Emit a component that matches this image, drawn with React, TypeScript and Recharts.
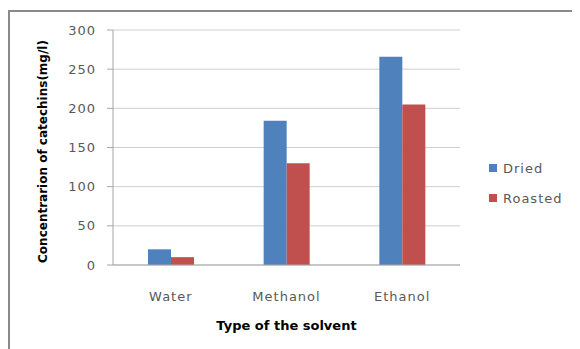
import { BarChart, Bar, XAxis, YAxis, CartesianGrid } from "recharts";

const solvents = ["Water", "Methanol", "Ethanol"];
const dried = [20, 184, 266];
const roasted = [10, 130, 205];
const yTicks = [0, 50, 100, 150, 200, 250, 300];

const data = solvents.map((name, i) => ({ name, Dried: dried[i], Roasted: roasted[i] }));

const series = [
  { key: "Dried", color: "#4F81BD" },
  { key: "Roasted", color: "#C0504D" },
];

const FONT = "'DejaVu Sans', sans-serif";
const TEXT = "#595959";

export default function App() {
  return (
    <div style={{ position: "relative", width: 572, height: 341 }}>
      <div
        style={{
          position: "absolute",
          left: 0,
          top: 2,
          right: 0,
          bottom: 0,
          borderTop: "2px solid #8a8a8a",
          borderLeft: "2px solid #8a8a8a",
        }}
      />
      <BarChart
        width={572}
        height={341}
        data={data}
        margin={{ top: 22, right: 120, left: 0, bottom: 0 }}
        barGap={0}
        barSize={23}
      >
        <CartesianGrid vertical={false} stroke="#cfcfcf" />
        <XAxis
          dataKey="name"
          height={84}
          tickLine={false}
          tickMargin={21}
          stroke="#a6a6a6"
          tick={{ fill: TEXT, fontSize: 13, fontFamily: FONT, letterSpacing: 1 }}
          label={{
            content: (p: any) => {
              const vb = p.viewBox;
              return (
                <text
                  x={vb.x + vb.width / 2}
                  y={317}
                  textAnchor="middle"
                  dominantBaseline="central"
                  fontFamily={FONT}
                  fontSize={13}
                  fontWeight="bold"
                  fill="#000"
                >
                  Type of the solvent
                </text>
              );
            },
          }}
        />
        <YAxis
          width={105}
          domain={[0, 300]}
          ticks={yTicks}
          tickSize={6}
          tickMargin={11}
          stroke="#a6a6a6"
          tick={{ fill: TEXT, fontSize: 13, fontFamily: FONT, letterSpacing: 1 }}
          label={{
            content: (p: any) => {
              const vb = p.viewBox;
              const cy = vb.y + vb.height / 2 + 4;
              return (
                <text
                  x={35}
                  y={cy}
                  transform={`rotate(-90, 35, ${cy})`}
                  textAnchor="middle"
                  dominantBaseline="central"
                  fontFamily={FONT}
                  fontSize={12}
                  fontWeight="bold"
                  fill="#000"
                >
                  Concentrarion of catechins(mg/l)
                </text>
              );
            },
          }}
        />
        {series.map((s) => (
          <Bar key={s.key} dataKey={s.key} fill={s.color} isAnimationActive={false} />
        ))}
      </BarChart>
      <div
        style={{
          position: "absolute",
          left: 481,
          top: 145,
          fontFamily: FONT,
          fontSize: 13,
          color: TEXT,
          letterSpacing: 1,
        }}
      >
        {series.map((s) => (
          <div key={s.key} style={{ display: "flex", alignItems: "center", height: 30 }}>
            <span style={{ width: 8, height: 8, background: s.color, marginRight: 6 }} />
            {s.key}
          </div>
        ))}
      </div>
    </div>
  );
}
